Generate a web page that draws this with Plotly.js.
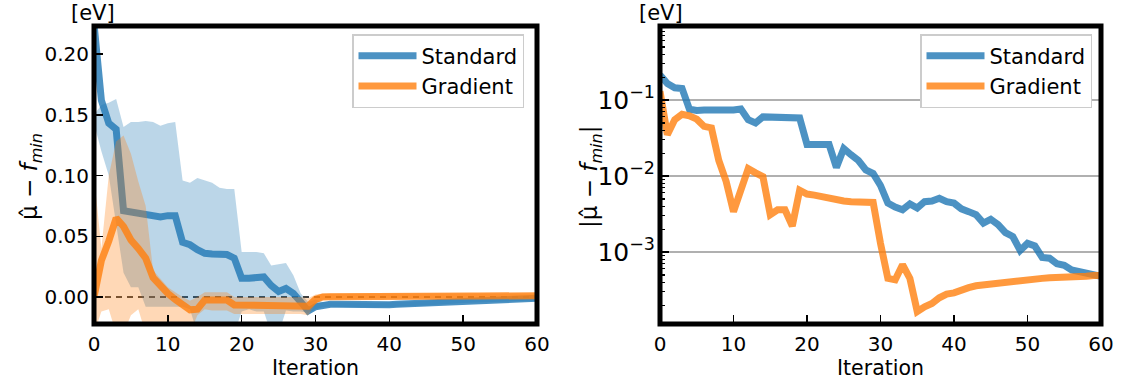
<!DOCTYPE html>
<html>
<head>
<meta charset="utf-8">
<script src="https://cdn.plot.ly/plotly-3.0.1.min.js"></script>
<style>
html,body{margin:0;padding:0;background:#fff;}
#chart{width:1123px;height:380px;}
</style>
</head>
<body>
<div id="chart"></div>
<script>
// Iterations
var iterations = [];
for (var k = 0; k <= 60; k++) iterations.push(k);

// Left panel: signed mean error and spread band (eV)
var standardMean = [0.225,0.162,0.143,0.138,0.071,0.070,0.069,0.069,0.067,0.066,0.067,0.067,0.045,0.043,0.039,0.036,0.0355,0.0355,0.035,0.032,
  0.0155,0.0155,0.016,0.0165,0.0095,0.0045,0.007,0.003,-0.004,-0.0115,-0.008,-0.0065,-0.006,-0.006,-0.0062,-0.0063,-0.0065,-0.0066,-0.0068,-0.0066,
  -0.0064,-0.006,-0.0058,-0.0056,-0.0054,-0.005,-0.0045,-0.004,-0.0036,-0.0032,-0.003,-0.0028,-0.0025,-0.0022,-0.002,-0.0018,-0.0016,-0.0014,-0.0012,-0.0011,-0.001];
var standardUpper = [0.150,0.158,0.160,0.163,0.140,0.144,0.144,0.145,0.144,0.141,0.143,0.144,0.096,0.094,0.098,0.096,0.094,0.090,0.089,0.089,
  0.037,0.037,0.037,0.036,0.026,0.027,0.028,0.018,0.003,-0.004,-0.002,-0.004,-0.004,-0.004,-0.0042,-0.0043,-0.0045,-0.0046,-0.0048,-0.0046,
  -0.0044,-0.004,-0.0038,-0.0036,-0.0034,-0.003,-0.0025,-0.002,-0.0016,-0.0012,-0.001,-0.0008,-0.0005,-0.0002,0.0,0.0002,0.0004,0.0006,0.0008,0.0009,0.001];
var standardLower = [0.143,0.120,0.100,0.060,0.020,0.008,0.008,-0.008,-0.008,-0.008,-0.008,-0.008,-0.008,-0.010,-0.030,-0.030,-0.030,-0.030,-0.030,-0.030,
  -0.012,-0.010,-0.012,-0.012,-0.030,-0.030,-0.011,-0.012,-0.012,-0.013,-0.010,-0.0085,-0.008,-0.008,-0.0082,-0.0083,-0.0085,-0.0086,-0.0088,-0.0086,
  -0.0084,-0.008,-0.0078,-0.0076,-0.0074,-0.007,-0.0065,-0.006,-0.0056,-0.0052,-0.005,-0.0048,-0.0045,-0.0042,-0.004,-0.0038,-0.0036,-0.0034,-0.0032,-0.0031,-0.003];

var gradientMean = [0.0,0.030,0.046,0.065,0.058,0.047,0.040,0.032,0.016,0.009,0.003,-0.002,-0.007,-0.0105,-0.010,-0.0025,-0.0025,-0.0025,-0.0025,-0.0065,
  -0.0065,-0.0065,-0.0065,-0.0065,-0.0065,-0.0065,-0.0065,-0.0065,-0.0065,-0.0075,-0.002,0.0,0.0003,0.0004,0.0004,0.0005,0.0005,0.0005,0.0006,0.0006,
  0.0006,0.0006,0.0007,0.0007,0.0007,0.0007,0.0008,0.0008,0.0008,0.0008,0.0008,0.0009,0.0009,0.0009,0.0009,0.0009,0.001,0.001,0.001,0.001,0.001];
var gradientUpper = [0.100,0.040,0.100,0.128,0.133,0.118,0.095,0.075,0.022,0.015,0.008,0.004,0.0,-0.003,0.0,0.004,0.004,0.004,0.004,0.0,
  0.0,0.0,0.0,0.0,0.0,0.0,0.0,0.0,0.0,-0.001,0.002,0.003,0.003,0.003,0.003,0.003,0.003,0.003,0.003,0.003,
  0.003,0.003,0.003,0.003,0.003,0.003,0.003,0.003,0.003,0.003,0.003,0.003,0.003,0.003,0.003,0.003,0.003,0.003,0.003,0.003,0.003];
var gradientLower = [-0.030,-0.012,-0.010,-0.030,-0.030,-0.015,-0.010,-0.030,-0.030,-0.030,-0.030,-0.025,-0.030,-0.030,-0.015,-0.010,-0.011,-0.011,-0.011,-0.014,
  -0.014,-0.014,-0.014,-0.014,-0.014,-0.014,-0.014,-0.014,-0.014,-0.015,-0.006,-0.002,-0.002,-0.0015,-0.0015,-0.0015,-0.0015,-0.0015,-0.0012,-0.0012,
  -0.0012,-0.0012,-0.001,-0.001,-0.001,-0.001,-0.001,-0.001,-0.001,-0.001,-0.001,-0.0008,-0.0008,-0.0008,-0.0008,-0.0008,-0.0006,-0.0006,-0.0006,-0.0006,-0.0006];

// Right panel: absolute mean error (eV, log scale)
var standardAbs = [0.214,0.165,0.145,0.142,0.076,0.073,0.074,0.075,0.075,0.074,0.074,0.076,0.055,0.050,0.060,0.060,0.060,0.058,0.058,0.058,
  0.026,0.026,0.026,0.026,0.013,0.023,0.019,0.016,0.012,0.0108,0.0075,0.0044,0.0039,0.0036,0.0043,0.0038,0.0046,0.0047,0.0051,0.0046,
  0.0044,0.0037,0.0034,0.0031,0.0024,0.0027,0.0023,0.0018,0.0016,0.00105,0.0013,0.0012,0.00085,0.00083,0.0007,0.00067,0.00058,0.00055,0.00053,0.0005,0.00048];
var gradientAbs = [0.13,0.035,0.055,0.065,0.062,0.056,0.045,0.043,0.016,0.0085,0.0034,0.0065,0.0125,0.011,0.0098,0.0031,0.0036,0.0036,0.0022,0.0065,
  0.0058,0.0056,0.0053,0.005,0.0048,0.0047,0.0046,0.0046,0.0047,0.0045,0.0013,0.00045,0.00043,0.00068,0.00045,0.000165,0.00019,0.00021,0.00025,0.00028,
  0.00029,0.00032,0.00034,0.00036,0.00037,0.00039,0.0004,0.00041,0.00042,0.00043,0.00044,0.00044,0.00045,0.00046,0.00046,0.00047,0.00047,0.00048,0.00048,0.00049,0.00049];

var seriesNames = ['Standard', 'Gradient'];
var xTickVals = [0,10,20,30,40,50,60];
var yTitleLeft = 'μ\u0302 − <i>f</i><sub><i>min</i></sub>';
var yTitleRight = '|μ\u0302 − <i>f</i><sub><i>min</i></sub>|';

var BLUE = 'rgba(31,119,180,0.8)', ORANGE = 'rgba(255,127,14,0.8)';
var BLUE_F = 'rgba(31,119,180,0.3)', ORANGE_F = 'rgba(255,127,14,0.3)';
var FONT = 'DejaVu Sans, sans-serif';
var LW = 7;

var traces = [
  {x: iterations, y: standardLower, mode:'lines', line:{width:0, color:BLUE_F}, showlegend:false, hoverinfo:'skip', xaxis:'x', yaxis:'y'},
  {x: iterations, y: standardUpper, mode:'lines', line:{width:0, color:BLUE_F}, fill:'tonexty', fillcolor:BLUE_F, showlegend:false, hoverinfo:'skip', xaxis:'x', yaxis:'y'},
  {x: iterations, y: standardMean, mode:'lines', name:seriesNames[0], line:{width:LW, color:BLUE}, xaxis:'x', yaxis:'y', legend:'legend', legendgroup:'s1', legendrank:1},
  {x: iterations, y: gradientLower, mode:'lines', line:{width:0, color:ORANGE_F}, showlegend:false, hoverinfo:'skip', xaxis:'x', yaxis:'y'},
  {x: iterations, y: gradientUpper, mode:'lines', line:{width:0, color:ORANGE_F}, fill:'tonexty', fillcolor:ORANGE_F, showlegend:false, hoverinfo:'skip', xaxis:'x', yaxis:'y'},
  {x: iterations, y: gradientMean, mode:'lines', name:seriesNames[1], line:{width:LW, color:ORANGE}, xaxis:'x', yaxis:'y', legend:'legend', legendgroup:'g1', legendrank:2},
  {x: iterations, y: standardAbs, mode:'lines', name:seriesNames[0], line:{width:LW, color:BLUE}, xaxis:'x2', yaxis:'y2', legend:'legend2', legendgroup:'s2', legendrank:1},
  {x: iterations, y: gradientAbs, mode:'lines', name:seriesNames[1], line:{width:LW, color:ORANGE}, xaxis:'x2', yaxis:'y2', legend:'legend2', legendgroup:'g2', legendrank:2}
];

var W = 1123, H = 380;
var yDom = [(H-324)/H, (H-26)/H];

function xAxis(dom, anchor) {
  return {
    domain: dom, anchor: anchor, range: [0, 60],
    tickvals: xTickVals, ticks: 'inside', ticklen: 9, tickwidth: 1.5, tickcolor: '#000',
    showgrid: false, zeroline: false, showline: false,
    tickfont: {family: FONT, size: 20, color: '#000'},
    ticklabelstandoff: 6,
    title: {text: 'Iteration', font: {family: FONT, size: 20.5, color: '#000'}, standoff: 0}
  };
}

function legendBox(rightPx) {
  return {
    x: rightPx/W, y: (H-34)/H, xanchor: 'right', yanchor: 'top',
    bgcolor: '#fff', bordercolor: '#cccccc', borderwidth: 1.5,
    font: {family: FONT, size: 21, color: '#000'}, itemwidth: 58,
    traceorder: 'normal', tracegroupgap: 5
  };
}

function yTitle(text, xPx) {
  return {xref: 'paper', yref: 'paper', x: xPx/W, y: (H-177)/H, text: text, textangle: -90,
    showarrow: false, xanchor: 'center', yanchor: 'middle', font: {family: FONT, size: 23, color: '#000'}};
}

var layout = {
  width: W, height: H,
  margin: {l: 0, r: 0, t: 0, b: 0},
  paper_bgcolor: '#fff', plot_bgcolor: '#fff',
  font: {family: FONT, size: 20, color: '#000'},
  xaxis: xAxis([94/W, 537/W], 'y'),
  xaxis2: xAxis([660/W, 1101/W], 'y2'),
  yaxis: {
    domain: yDom, anchor: 'x', range: [-0.0222, 0.2231],
    tickvals: [0, 0.05, 0.10, 0.15, 0.20], tickformat: '.2f',
    ticks: 'inside', ticklen: 9, tickwidth: 1.5, tickcolor: '#000',
    showgrid: false, zeroline: false, showline: false,
    tickfont: {family: FONT, size: 20, color: '#000'},
    ticklabelstandoff: 4
  },
  yaxis2: {
    domain: yDom, anchor: 'x2', type: 'log', range: [-3.947, -0.026],
    dtick: 1, exponentformat: 'power', showexponent: 'all',
    ticks: 'inside', ticklen: 9, tickwidth: 1.5, tickcolor: '#000',
    showgrid: true, gridcolor: '#b0b0b0', gridwidth: 1.5, zeroline: false, showline: false,
    minor: {ticks: 'inside', ticklen: 5, tickwidth: 1.2, tickcolor: '#000', dtick: 'D1', showgrid: false},
    tickfont: {family: FONT, size: 20, color: '#000'},
    ticklabelstandoff: 4
  },
  legend: legendBox(524),
  legend2: legendBox(1092),
  shapes: [
    {type: 'line', xref: 'x domain', yref: 'y', x0: 0, x1: 1, y0: 0, y1: 0, line: {color: '#000', width: 1.5, dash: '6px,5px'}, layer: 'below'},
    {type: 'rect', xref: 'x domain', yref: 'y domain', x0: 0, x1: 1, y0: 0, y1: 1, line: {color: '#000', width: 5}},
    {type: 'rect', xref: 'x2 domain', yref: 'y2 domain', x0: 0, x1: 1, y0: 0, y1: 1, line: {color: '#000', width: 5}}
  ],
  annotations: [
    {xref: 'paper', yref: 'paper', x: 93/W, y: (H-13)/H, text: '[eV]', showarrow: false, xanchor: 'center', yanchor: 'middle', font: {family: FONT, size: 21, color: '#000'}},
    {xref: 'paper', yref: 'paper', x: 661/W, y: (H-13)/H, text: '[eV]', showarrow: false, xanchor: 'center', yanchor: 'middle', font: {family: FONT, size: 21, color: '#000'}},
    yTitle(yTitleLeft, 31),
    yTitle(yTitleRight, 591)
  ]
};

Plotly.newPlot('chart', traces, layout, {displayModeBar: false, staticPlot: true});
</script>
</body>
</html>
